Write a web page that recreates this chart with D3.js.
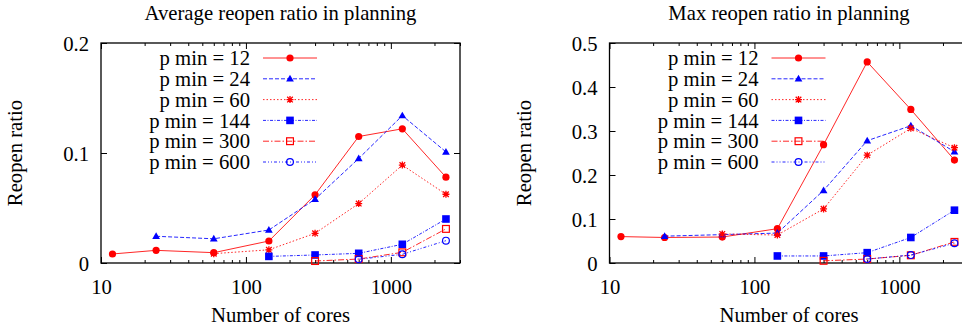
<!DOCTYPE html>
<html>
<head>
<meta charset="utf-8">
<script src="https://cdn.jsdelivr.net/npm/d3@7"></script>
<style>
  body { margin: 0; background: #fff; }
  svg text { font-family: "Liberation Serif", "DejaVu Serif", serif; fill: #000; }
</style>
</head>
<body>
<svg id="chart"></svg>
<script>
const width = 962
const height = 326
const fontSize = '20.7px'

// x values (number of cores)
const cores = [12, 24, 60, 144, 300, 600, 1200, 2400]
const seriesNames = ['p min = 12', 'p min = 24', 'p min = 60', 'p min = 144', 'p min = 300', 'p min = 600']

// average reopen ratio
const avgP12 = [0.0082, 0.0115, 0.0094, 0.020, 0.062, 0.115, 0.122, 0.078]
const avgP24 = [null, 0.0243, 0.022, 0.030, 0.058, 0.095, 0.134, 0.101]
const avgP60 = [null, null, 0.0085, 0.012, 0.027, 0.054, 0.089, 0.0625]
const avgP144 = [null, null, null, 0.006, 0.0073, 0.0088, 0.017, 0.040]
const avgP300 = [null, null, null, null, 0.0018, 0.0036, 0.0097, 0.031]
const avgP600 = [null, null, null, null, null, 0.0034, 0.0079, 0.0203]

// max reopen ratio
const maxP12 = [0.060, 0.058, 0.059, 0.078, 0.269, 0.457, 0.349, 0.234]
const maxP24 = [null, 0.061, 0.0645, 0.068, 0.165, 0.278, 0.312, 0.253]
const maxP60 = [null, null, 0.066, 0.0636, 0.123, 0.245, 0.306, 0.262]
const maxP144 = [null, null, null, 0.016, 0.016, 0.0235, 0.058, 0.120]
const maxP300 = [null, null, null, null, 0.005, 0.009, 0.0175, 0.048]
const maxP600 = [null, null, null, null, null, 0.009, 0.018, 0.045]

const avgTicks = [0, 0.1, 0.2]
const maxTicks = [0, 0.1, 0.2, 0.3, 0.4, 0.5]
const xMajor = [10, 100, 1000]

// style per series: colour, dash, marker
const styles = [
    { color: '#ff0000', dash: null, marker: 'circle' },
    { color: '#0000ff', dash: '4,2', marker: 'triangle' },
    { color: '#ff0000', dash: '1.5,2', marker: 'star' },
    { color: '#0000ff', dash: '3,1.5,1,1.5', marker: 'square' },
    { color: '#ff0000', dash: '6,2,1.5,2', marker: 'openSquare' },
    { color: '#0000ff', dash: '3,2,1,2,1,2', marker: 'openCircle' }
]

const svg = d3.select('#chart')
    .attr('width', width)
    .attr('height', height)

const innerWidth = 359
const innerHeight = 220

function drawMarker(g, type, color, x, y) {
    if (type === 'circle') {
        g.append('circle').attr('cx', x).attr('cy', y).attr('r', 3.6).attr('fill', color)
    } else if (type === 'triangle') {
        g.append('path')
            .attr('d', d3.symbol().type(d3.symbolTriangle).size(26)())
            .attr('transform', `translate(${x},${y + 0.5})`)
            .attr('fill', color)
    } else if (type === 'star') {
        const r = 3.5
        g.append('path')
            .attr('d', `M${x - r},${y}H${x + r}M${x},${y - r}V${y + r}M${x - r * 0.8},${y - r * 0.8}L${x + r * 0.8},${y + r * 0.8}M${x - r * 0.8},${y + r * 0.8}L${x + r * 0.8},${y - r * 0.8}`)
            .attr('stroke', color)
            .attr('stroke-width', 1.3)
            .attr('fill', 'none')
    } else if (type === 'square') {
        g.append('rect').attr('x', x - 3.8).attr('y', y - 3.8).attr('width', 7.6).attr('height', 7.6).attr('fill', color)
    } else if (type === 'openSquare') {
        g.append('rect').attr('x', x - 3.4).attr('y', y - 3.4).attr('width', 6.8).attr('height', 6.8)
            .attr('fill', 'none').attr('stroke', color).attr('stroke-width', 1.2)
    } else if (type === 'openCircle') {
        g.append('circle').attr('cx', x).attr('cy', y).attr('r', 3.4)
            .attr('fill', 'none').attr('stroke', color).attr('stroke-width', 1.2)
    }
}

function drawPanel(left, title, yMax, yTicks, series) {
    const top = 43
    const g = svg.append('g').attr('transform', `translate(${left},${top})`)

    const xScale = d3.scaleLog()
        .domain([10, 3000])
        .range([0, innerWidth])
    const yScale = d3.scaleLinear()
        .domain([0, yMax])
        .range([innerHeight, 0])

    const xMinor = xScale.ticks().filter(v => !xMajor.includes(v))

    // ticks, pointing inwards on all four sides
    const xBottom = g.append('g').attr('transform', `translate(0,${innerHeight})`)
        .call(d3.axisBottom(xScale).tickValues(xMajor).tickSizeInner(-6).tickSizeOuter(0)
            .tickPadding(16).tickFormat(d3.format('d')))
    xBottom.append('g').call(d3.axisBottom(xScale).tickValues(xMinor).tickSizeInner(-3).tickSizeOuter(0).tickFormat(''))
    const xTop = g.append('g')
        .call(d3.axisTop(xScale).tickValues(xMajor).tickSizeInner(-6).tickSizeOuter(0).tickFormat(''))
    xTop.append('g').call(d3.axisTop(xScale).tickValues(xMinor).tickSizeInner(-3).tickSizeOuter(0).tickFormat(''))

    const yLeft = g.append('g')
        .call(d3.axisLeft(yScale).tickValues(yTicks).tickSizeInner(-6).tickSizeOuter(0)
            .tickPadding(12).tickFormat(d => d === 0 ? '0' : d3.format('.1f')(d)))
    g.append('g').attr('transform', `translate(${innerWidth},0)`)
        .call(d3.axisRight(yScale).tickValues(yTicks).tickSizeInner(-6).tickSizeOuter(0).tickFormat(''))

    g.selectAll('.domain').remove()
    g.selectAll('.tick text').filter(function () { return !this.textContent }).remove()
    g.selectAll('.tick line').attr('stroke', '#000')
    g.selectAll('.tick text').style('font-size', fontSize).attr('fill', '#000')
    yLeft.selectAll('.tick text').attr('dy', '0.35em')

    g.append('rect')
        .attr('width', innerWidth)
        .attr('height', innerHeight)
        .attr('fill', 'none')
        .attr('stroke', '#000')
        .attr('stroke-width', 1.3)

    // titles
    svg.append('text')
        .attr('x', left + innerWidth / 2)
        .attr('y', 20)
        .attr('text-anchor', 'middle')
        .style('font-size', fontSize)
        .text(title)
    svg.append('text')
        .attr('x', left + innerWidth / 2)
        .attr('y', 322)
        .attr('text-anchor', 'middle')
        .style('font-size', fontSize)
        .text('Number of cores')
    svg.append('text')
        .attr('transform', `translate(${left - 79},${top + innerHeight / 2}) rotate(-90)`)
        .attr('text-anchor', 'middle')
        .style('font-size', fontSize)
        .text('Reopen ratio')

    // series
    series.forEach((values, i) => {
        const st = styles[i]
        const pts = cores.map((c, j) => [c, values[j]]).filter(p => p[1] !== null)
        const line = d3.line()
            .x(d => xScale(d[0]))
            .y(d => yScale(d[1]))
        g.append('path')
            .datum(pts)
            .attr('d', line)
            .attr('fill', 'none')
            .attr('stroke', st.color)
            .attr('stroke-width', 1)
            .attr('stroke-opacity', 0.85)
            .attr('stroke-dasharray', st.dash)
        const mg = g.append('g')
        pts.forEach(p => drawMarker(mg, st.marker, st.color, xScale(p[0]), yScale(p[1])))
    })

    // legend
    const legend = g.append('g')
    seriesNames.forEach((name, i) => {
        const st = styles[i]
        const y = 15 + i * 20.8
        legend.append('text')
            .attr('x', 149)
            .attr('y', y)
            .attr('dy', '0.35em')
            .attr('text-anchor', 'end')
            .style('font-size', fontSize)
            .text(name)
        legend.append('line')
            .attr('x1', 162).attr('x2', 216)
            .attr('y1', y).attr('y2', y)
            .attr('stroke', st.color)
            .attr('stroke-width', 1)
            .attr('stroke-opacity', 0.85)
            .attr('stroke-dasharray', st.dash)
        drawMarker(legend, st.marker, st.color, 189, y)
    })
}

drawPanel(101, 'Average reopen ratio in planning', 0.2, avgTicks,
    [avgP12, avgP24, avgP60, avgP144, avgP300, avgP600])
drawPanel(609.5, 'Max reopen ratio in planning', 0.5, maxTicks,
    [maxP12, maxP24, maxP60, maxP144, maxP300, maxP600])
</script>
</body>
</html>
